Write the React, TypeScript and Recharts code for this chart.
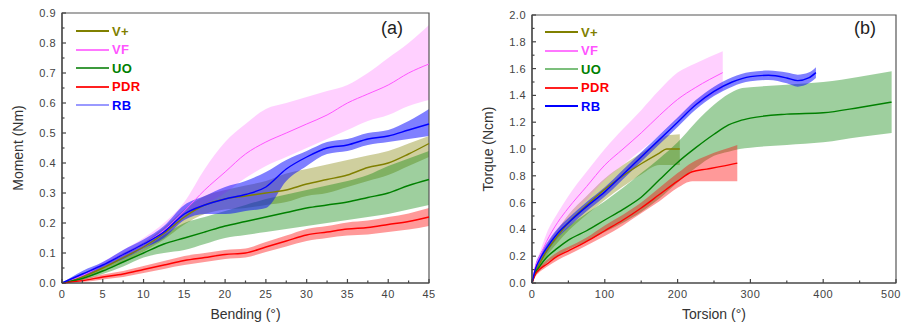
import React from 'react';
import { ComposedChart, Area, Line, XAxis, YAxis, ReferenceArea, Legend } from 'recharts';

const FONT = '"Liberation Sans", Arial, sans-serif';

// ---------- panel (a): bending moment ----------
const bendAngles = [0, 2.5, 5, 7.5, 10, 12.5, 15, 17.5, 20, 22.5, 25, 27.5, 30, 32.5, 35, 37.5, 40, 42.5, 45];
const bendVpMean = [0, 0.02, 0.05, 0.085, 0.12, 0.165, 0.22, 0.26, 0.28, 0.29, 0.3, 0.31, 0.33, 0.345, 0.36, 0.385, 0.4, 0.43, 0.465];
const bendVpLo = [0, 0.015, 0.04, 0.07, 0.105, 0.145, 0.195, 0.23, 0.245, 0.25, 0.26, 0.27, 0.29, 0.3, 0.32, 0.34, 0.36, 0.39, 0.42];
const bendVpHi = [0, 0.025, 0.06, 0.1, 0.135, 0.185, 0.245, 0.29, 0.31, 0.325, 0.34, 0.365, 0.38, 0.395, 0.41, 0.425, 0.44, 0.465, 0.49];
const bendVfMean = [0, 0.025, 0.06, 0.095, 0.13, 0.175, 0.24, 0.31, 0.37, 0.43, 0.47, 0.5, 0.53, 0.56, 0.6, 0.63, 0.66, 0.7, 0.73];
const bendVfLo = [0, 0.02, 0.05, 0.08, 0.115, 0.155, 0.215, 0.26, 0.3, 0.35, 0.39, 0.42, 0.45, 0.48, 0.51, 0.54, 0.56, 0.59, 0.61];
const bendVfHi = [0, 0.03, 0.07, 0.11, 0.15, 0.2, 0.27, 0.38, 0.47, 0.53, 0.58, 0.6, 0.62, 0.64, 0.66, 0.7, 0.75, 0.8, 0.86];
const bendUoMean = [0, 0.015, 0.04, 0.07, 0.1, 0.13, 0.15, 0.17, 0.19, 0.205, 0.22, 0.235, 0.25, 0.26, 0.27, 0.285, 0.3, 0.325, 0.345];
const bendUoLo = [0, 0.01, 0.03, 0.055, 0.085, 0.1, 0.11, 0.13, 0.15, 0.16, 0.17, 0.18, 0.19, 0.2, 0.21, 0.22, 0.23, 0.245, 0.26];
const bendUoHi = [0, 0.02, 0.05, 0.085, 0.115, 0.16, 0.2, 0.22, 0.24, 0.26, 0.28, 0.295, 0.31, 0.325, 0.34, 0.36, 0.39, 0.415, 0.44];
const bendPdrMean = [0, 0.008, 0.02, 0.03, 0.045, 0.06, 0.075, 0.085, 0.095, 0.1, 0.12, 0.14, 0.16, 0.17, 0.18, 0.185, 0.195, 0.205, 0.22];
const bendPdrLo = [0, 0.003, 0.012, 0.02, 0.033, 0.047, 0.06, 0.07, 0.08, 0.085, 0.103, 0.122, 0.14, 0.15, 0.158, 0.162, 0.17, 0.178, 0.19];
const bendPdrHi = [0, 0.013, 0.028, 0.04, 0.057, 0.073, 0.09, 0.1, 0.11, 0.115, 0.137, 0.158, 0.18, 0.19, 0.202, 0.208, 0.22, 0.232, 0.25];
const bendRbMean = [0, 0.03, 0.06, 0.095, 0.13, 0.17, 0.23, 0.26, 0.28, 0.295, 0.32, 0.38, 0.42, 0.45, 0.46, 0.48, 0.49, 0.51, 0.53];
const bendRbLo = [0, 0.02, 0.05, 0.08, 0.115, 0.15, 0.21, 0.23, 0.23, 0.24, 0.25, 0.34, 0.39, 0.43, 0.44, 0.46, 0.47, 0.48, 0.49];
const bendRbHi = [0, 0.04, 0.07, 0.11, 0.145, 0.19, 0.26, 0.29, 0.32, 0.34, 0.37, 0.41, 0.44, 0.47, 0.48, 0.5, 0.51, 0.54, 0.58];

const bendXTicks = [0, 2.5, 5, 7.5, 10, 12.5, 15, 17.5, 20, 22.5, 25, 27.5, 30, 32.5, 35, 37.5, 40, 42.5, 45];
const momentTicks = [0, 0.05, 0.1, 0.15, 0.2, 0.25, 0.3, 0.35, 0.4, 0.45, 0.5, 0.55, 0.6, 0.65, 0.7, 0.75, 0.8, 0.85, 0.9];

// ---------- panel (b): torsion torque ----------
const torVpX = [0, 5, 10, 20, 35, 50, 75, 100, 125, 150, 175, 185, 203];
const torVpMean = [0, 0.09, 0.14, 0.24, 0.35, 0.45, 0.58, 0.7, 0.8, 0.89, 0.97, 1.0, 1.0];
const torVpLo = [0, 0.07, 0.11, 0.2, 0.3, 0.39, 0.51, 0.62, 0.72, 0.81, 0.88, 0.88, 0.88];
const torVpHi = [0, 0.11, 0.17, 0.28, 0.4, 0.51, 0.65, 0.78, 0.88, 0.97, 1.06, 1.1, 1.11];

const torVfX = [0, 5, 10, 20, 35, 50, 75, 100, 125, 150, 175, 200, 225, 262];
const torVfMean = [0, 0.13, 0.19, 0.31, 0.45, 0.56, 0.72, 0.88, 1.0, 1.12, 1.25, 1.37, 1.46, 1.57];
const torVfLo = [0, 0.11, 0.16, 0.26, 0.38, 0.48, 0.62, 0.77, 0.88, 0.99, 1.1, 1.22, 1.32, 1.44];
const torVfHi = [0, 0.15, 0.22, 0.37, 0.52, 0.65, 0.83, 1.0, 1.15, 1.29, 1.44, 1.57, 1.64, 1.73];

const torUoX = [0, 5, 10, 20, 35, 50, 75, 100, 125, 150, 175, 200, 225, 250, 270, 285, 300, 350, 400, 450, 494];
const torUoMean = [0, 0.08, 0.12, 0.19, 0.26, 0.32, 0.39, 0.47, 0.55, 0.64, 0.77, 0.9, 1.01, 1.11, 1.18, 1.21, 1.23, 1.26, 1.27, 1.31, 1.35];
const torUoLo = [0, 0.06, 0.09, 0.15, 0.2, 0.25, 0.31, 0.38, 0.45, 0.53, 0.63, 0.75, 0.86, 0.95, 0.98, 1.0, 1.01, 1.03, 1.05, 1.09, 1.12];
const torUoHi = [0, 0.1, 0.15, 0.24, 0.34, 0.42, 0.52, 0.61, 0.71, 0.82, 0.93, 1.05, 1.2, 1.33, 1.41, 1.45, 1.46, 1.48, 1.5, 1.54, 1.58];

const torPdrX = [0, 5, 10, 20, 35, 50, 75, 100, 125, 150, 175, 200, 220, 240, 260, 282];
const torPdrMean = [0, 0.07, 0.1, 0.14, 0.2, 0.24, 0.31, 0.39, 0.47, 0.56, 0.66, 0.76, 0.83, 0.85, 0.87, 0.895];
const torPdrLo = [0, 0.05, 0.08, 0.12, 0.17, 0.21, 0.28, 0.35, 0.43, 0.52, 0.61, 0.71, 0.76, 0.76, 0.76, 0.76];
const torPdrHi = [0, 0.09, 0.12, 0.17, 0.23, 0.27, 0.34, 0.43, 0.51, 0.6, 0.71, 0.82, 0.9, 0.95, 0.99, 1.03];

const torRbX = [0, 5, 10, 20, 35, 50, 75, 100, 125, 150, 175, 200, 225, 250, 275, 300, 325, 350, 365, 380, 390];
const torRbMean = [0, 0.11, 0.17, 0.26, 0.37, 0.45, 0.57, 0.68, 0.81, 0.94, 1.07, 1.2, 1.33, 1.43, 1.5, 1.54, 1.55, 1.53, 1.51, 1.53, 1.57];
const torRbLo = [0, 0.08, 0.135, 0.225, 0.335, 0.415, 0.535, 0.645, 0.775, 0.905, 1.035, 1.165, 1.295, 1.395, 1.465, 1.505, 1.515, 1.49, 1.465, 1.49, 1.53];
const torRbHi = [0, 0.14, 0.205, 0.295, 0.405, 0.485, 0.605, 0.715, 0.845, 0.975, 1.105, 1.235, 1.365, 1.465, 1.535, 1.575, 1.585, 1.57, 1.555, 1.57, 1.61];

const torXTicks = [0, 50, 100, 150, 200, 250, 300, 350, 400, 450, 500];
const torqueTicks = [0, 0.1, 0.2, 0.3, 0.4, 0.5, 0.6, 0.7, 0.8, 0.9, 1.0, 1.1, 1.2, 1.3, 1.4, 1.5, 1.6, 1.7, 1.8, 1.9, 2.0];

const seriesNames = ['V+', 'VF', 'UO', 'PDR', 'RB'];
const lineColors = ['#808000', '#ff55ff', '#008000', '#ff0000', '#0000ff'];
const bandOpacity = [0.38, 0.28, 0.38, 0.4, 0.5];
const keyLineColorsA = ['#808000', '#ff77ff', '#3c9a3c', '#ff2020', '#9a9aff'];
const keyLineColorsB = ['#808000', '#ff77ff', '#7cbf7c', '#ff2020', '#0000ff'];

const bendRows = bendAngles.map((x, i) => ({
  x,
  vpMean: bendVpMean[i], vpBand: [bendVpLo[i], bendVpHi[i]],
  vfMean: bendVfMean[i], vfBand: [bendVfLo[i], bendVfHi[i]],
  uoMean: bendUoMean[i], uoBand: [bendUoLo[i], bendUoHi[i]],
  pdrMean: bendPdrMean[i], pdrBand: [bendPdrLo[i], bendPdrHi[i]],
  rbMean: bendRbMean[i], rbBand: [bendRbLo[i], bendRbHi[i]],
}));

const toRows = (xs: number[], mean: number[], lo: number[], hi: number[]) =>
  xs.map((x, i) => ({ x, mean: mean[i], band: [lo[i], hi[i]] }));

const torSeries = [
  toRows(torVpX, torVpMean, torVpLo, torVpHi),
  toRows(torVfX, torVfMean, torVfLo, torVfHi),
  toRows(torUoX, torUoMean, torUoLo, torUoHi),
  toRows(torPdrX, torPdrMean, torPdrLo, torPdrHi),
  toRows(torRbX, torRbMean, torRbLo, torRbHi),
];

const GAP = 6;
const tickText = { fontFamily: FONT, fontSize: 11, fill: '#444', letterSpacing: 0.5 };

function AxisTick(props: any) {
  const { x, y, payload, side, step, digits, maxX } = props;
  const v = payload.value as number;
  const major = Math.abs(v / step - Math.round(v / step)) < 1e-6;
  const len = major ? 4 : 2.5;
  if (side === 'bottom') {
    const y0 = y - GAP;
    // keep the last label inside the window
    const lx = maxX ? Math.min(x, maxX) : x;
    return (
      <g>
        <line x1={x} x2={x} y1={y0} y2={y0 - len} stroke="#444" strokeWidth={1.2} />
        {major && (
          <text x={lx} y={y} dy="0.8em" textAnchor="middle" style={tickText}>
            {v.toFixed(digits)}
          </text>
        )}
      </g>
    );
  }
  const x0 = x + GAP;
  return (
    <g>
      <line x1={x0} x2={x0 + len} y1={y} y2={y} stroke="#444" strokeWidth={1.2} />
      {major && (
        <text x={x} y={y} dy="0.36em" textAnchor="end" style={tickText}>
          {v.toFixed(digits)}
        </text>
      )}
    </g>
  );
}

function SeriesKey({ colors }: { colors: string[] }) {
  return (
    <div style={{ fontFamily: FONT }}>
      {seriesNames.map((n, i) => (
        <div key={n} style={{ display: 'flex', alignItems: 'center', height: 18.5 }}>
          <span style={{ display: 'inline-block', width: 33, height: 2, background: colors[i], marginRight: 3 }} />
          <span style={{ color: lineColors[i], fontWeight: 'bold', fontSize: 13, letterSpacing: 0.4 }}>{n}</span>
        </div>
      ))}
    </div>
  );
}

const titleStyle = { fontFamily: FONT, fontSize: 14, fill: '#333' };

function BendingPanel() {
  const keys = ['vp', 'vf', 'uo', 'pdr', 'rb'];
  return (
    <ComposedChart width={450} height={325} data={bendRows} margin={{ top: 13, right: 21, bottom: 4, left: 12 }}>
      <XAxis
        dataKey="x" type="number" domain={[0, 45]} ticks={bendXTicks} interval={0}
        height={38} tickSize={0} tickMargin={GAP} tickLine={false}
        axisLine={{ stroke: '#444', strokeWidth: 1.2 }}
        tick={(p: any) => <AxisTick {...p} side="bottom" step={5} digits={0} />}
        label={{ value: 'Bending (°)', position: 'insideBottom', offset: 2, style: titleStyle }}
      />
      <YAxis
        type="number" domain={[0, 0.9]} ticks={momentTicks} interval={0}
        width={50} tickSize={0} tickMargin={GAP} tickLine={false}
        axisLine={{ stroke: '#444', strokeWidth: 1.2 }}
        tick={(p: any) => <AxisTick {...p} side="left" step={0.1} digits={1} />}
        label={{ value: 'Moment (Nm)', angle: -90, position: 'insideLeft', offset: 6, style: { ...titleStyle, textAnchor: 'middle' } }}
      />
      {keys.map((k, i) => (
        <Area key={k + 'b'} dataKey={k + 'Band'} type="monotone" stroke="none"
          fill={lineColors[i]} fillOpacity={bandOpacity[i]} isAnimationActive={false} />
      ))}
      {keys.map((k, i) => (
        <Line key={k + 'm'} dataKey={k + 'Mean'} type="monotone" stroke={lineColors[i]}
          strokeWidth={i === 1 ? 1 : 1.4} dot={false} isAnimationActive={false} />
      ))}
      <ReferenceArea x1={0} x2={45} y1={0} y2={0.9} fill="none" stroke="#555" strokeWidth={1.2} />
      <Legend layout="vertical" align="center" verticalAlign="middle"
        wrapperStyle={{ top: 22, left: 76, width: 'auto' }}
        content={() => <SeriesKey colors={keyLineColorsA} />} />
    </ComposedChart>
  );
}

function TorsionPanel() {
  return (
    <ComposedChart width={453} height={325} margin={{ top: 15, right: 7, bottom: 4, left: 32 }}>
      <XAxis
        dataKey="x" type="number" domain={[0, 500]} ticks={torXTicks} interval={0}
        height={38} tickSize={0} tickMargin={GAP} tickLine={false}
        axisLine={{ stroke: '#444', strokeWidth: 1.2 }}
        tick={(p: any) => <AxisTick {...p} side="bottom" step={100} digits={0} maxX={441} />}
        label={{ value: 'Torsion (°)', position: 'insideBottom', offset: 2, style: titleStyle }}
      />
      <YAxis
        type="number" domain={[0, 2]} ticks={torqueTicks} interval={0}
        width={50} tickSize={0} tickMargin={GAP} tickLine={false}
        axisLine={{ stroke: '#444', strokeWidth: 1.2 }}
        tick={(p: any) => <AxisTick {...p} side="left" step={0.2} digits={1} />}
        label={{ value: 'Torque (Ncm)', angle: -90, position: 'insideLeft', offset: 6, style: { ...titleStyle, textAnchor: 'middle' } }}
      />
      {torSeries.map((rows, i) => (
        <Area key={'b' + i} data={rows} dataKey="band" type="monotone" stroke="none"
          fill={lineColors[i]} fillOpacity={bandOpacity[i]} isAnimationActive={false} />
      ))}
      {torSeries.map((rows, i) => (
        <Line key={'m' + i} data={rows} dataKey="mean" type="monotone" stroke={lineColors[i]}
          strokeWidth={i === 1 ? 1 : 1.4} dot={false} isAnimationActive={false} />
      ))}
      <ReferenceArea x1={0} x2={500} y1={0} y2={2} fill="none" stroke="#555" strokeWidth={1.2} />
      <Legend layout="vertical" align="center" verticalAlign="middle"
        wrapperStyle={{ top: 23, left: 95, width: 'auto' }}
        content={() => <SeriesKey colors={keyLineColorsB} />} />
    </ComposedChart>
  );
}

const panelTag = { position: 'absolute' as const, fontFamily: FONT, fontSize: 18, lineHeight: 1, color: '#222' };

export default function App() {
  return (
    <div style={{ position: 'absolute', left: 0, top: 0, width: 903, height: 325, background: '#fff', overflow: 'hidden' }}>
      <div style={{ position: 'absolute', left: 0, top: 0 }}>
        <BendingPanel />
      </div>
      <div style={{ position: 'absolute', left: 450, top: 0 }}>
        <TorsionPanel />
      </div>
      <div style={{ ...panelTag, left: 381, top: 19 }}>(a)</div>
      <div style={{ ...panelTag, left: 854, top: 19 }}>(b)</div>
    </div>
  );
}
